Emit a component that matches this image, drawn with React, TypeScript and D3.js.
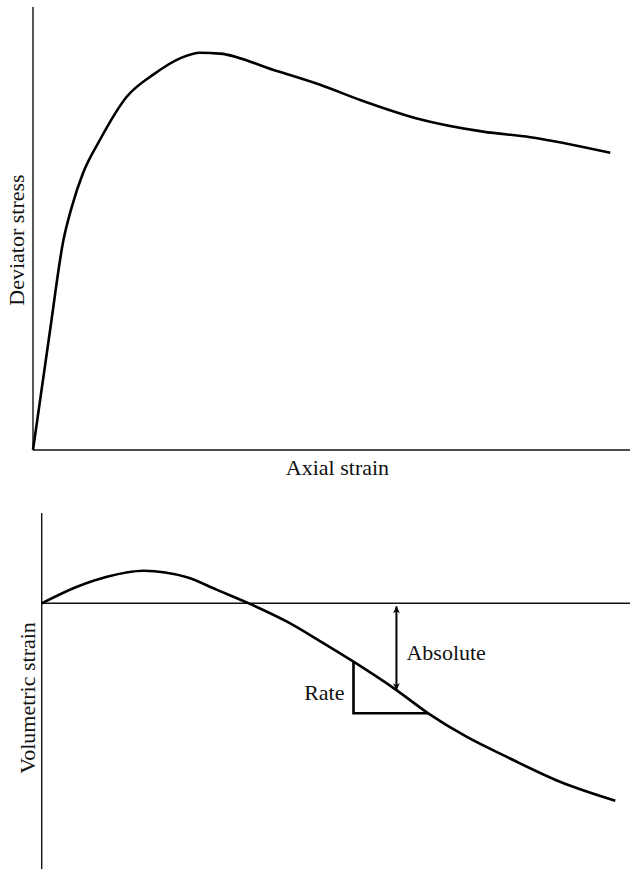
import React from "react";
import * as d3 from "d3";

// Deviator stress versus axial strain (schematic, arbitrary units)
const axialStrain = [0, 2.8, 5.1, 6.5, 8.4, 11.2, 15.7, 20.2, 24.9, 28.0, 31.3, 40.3, 48.1, 54.8, 64.3, 75.4, 83.3, 96.7];
const deviatorStress = [0, 29.3, 52.5, 60.8, 69.3, 77.5, 88.3, 93.9, 98.1, 99.3, 99.1, 95.0, 91.3, 87.5, 82.9, 79.6, 78.2, 74.3];

// Volumetric strain versus axial strain (schematic, arbitrary units)
const axialStrainVol = [0, 6.0, 11.1, 17.3, 24.7, 29.8, 35.4, 41.7, 47.3, 53.0, 60.3, 65.7, 72.2, 79.0, 88.1, 97.5];
const volumetricStrain = [0, 8.3, 13.3, 16.3, 13.0, 6.7, -0.3, -9.2, -18.9, -29.2, -43.4, -55.0, -66.7, -76.7, -89.2, -98.7];

// Annotation anchors (indices into the volumetric series)
const rateStartIndex = 9;
const rateEndIndex = 11;
const absoluteIndex = 10;

const topLabels = { x: "Axial strain", y: "Deviator stress" };
const bottomLabels = { y: "Volumetric strain", rate: "Rate", absolute: "Absolute" };

const W = 630;
const H = 869;
const FONT = "'Liberation Serif', 'Times New Roman', serif";
const FONT_SIZE = 22;

export default function App() {
  const xTop = d3.scaleLinear().domain([0, 100]).range([33, 630]);
  const yTop = d3.scaleLinear().domain([0, 110.75]).range([450, 7]);

  const xBot = d3.scaleLinear().domain([0, 100]).range([41.7, 630]);
  const yBot = d3.scaleLinear().domain([-132.85, 45.15]).range([869, 513]);

  const topData = axialStrain.map((x, i) => [x, deviatorStress[i]] as [number, number]);
  const botData = axialStrainVol.map((x, i) => [x, volumetricStrain[i]] as [number, number]);

  const topLine = d3
    .line<[number, number]>()
    .x((d) => xTop(d[0]))
    .y((d) => yTop(d[1]))
    .curve(d3.curveMonotoneX);

  const botLine = d3
    .line<[number, number]>()
    .x((d) => xBot(d[0]))
    .y((d) => yBot(d[1]))
    .curve(d3.curveMonotoneX);

  // Rate triangle
  const rx0 = xBot(axialStrainVol[rateStartIndex]);
  const ry0 = yBot(volumetricStrain[rateStartIndex]);
  const rx1 = xBot(axialStrainVol[rateEndIndex]);
  const ry1 = yBot(volumetricStrain[rateEndIndex]);

  // Absolute arrow
  const ax = xBot(axialStrainVol[absoluteIndex]);
  const ayTop = yBot(0) + 3;
  const ayBot = yBot(volumetricStrain[absoluteIndex]);

  const [tx0, tx1] = xTop.range();
  const [ty0, ty1] = yTop.range();
  const [bx0, bx1] = xBot.range();
  const [by0, by1] = yBot.range();

  return (
    <svg
      width={W}
      height={H}
      viewBox={`0 0 ${W} ${H}`}
      style={{ position: "absolute", left: 0, top: 0, display: "block", background: "#fff" }}
    >
      <defs>
        <marker
          id="arrow"
          viewBox="0 0 10 10"
          refX="10"
          refY="5"
          markerWidth="9"
          markerHeight="7"
          markerUnits="userSpaceOnUse"
          orient="auto-start-reverse"
        >
          <path d="M0,0 L10,5 L0,10 L3,5 Z" fill="#000" />
        </marker>
      </defs>

      {/* Upper panel axes */}
      <line x1={tx0} y1={ty0} x2={tx0} y2={ty1} stroke="#111" strokeWidth={1.4} />
      <line x1={tx0} y1={ty0} x2={tx1} y2={ty0} stroke="#111" strokeWidth={1.4} />
      <path d={topLine(topData) || ""} fill="none" stroke="#000" strokeWidth={2.6} strokeLinejoin="round" />

      <text
        x={(tx0 + tx1) / 2 + 6}
        y={ty0 + 25}
        textAnchor="middle"
        fontFamily={FONT}
        fontSize={FONT_SIZE}
        fill="#111"
      >
        {topLabels.x}
      </text>
      <text
        transform={`translate(24, 240) rotate(-90)`}
        textAnchor="middle"
        fontFamily={FONT}
        fontSize={FONT_SIZE}
        fill="#111"
      >
        {topLabels.y}
      </text>

      {/* Lower panel axes */}
      <line x1={bx0} y1={by0} x2={bx0} y2={by1} stroke="#111" strokeWidth={1.4} />
      <line x1={bx0} y1={yBot(0)} x2={bx1} y2={yBot(0)} stroke="#111" strokeWidth={1.4} />
      <path d={botLine(botData) || ""} fill="none" stroke="#000" strokeWidth={2.6} strokeLinejoin="round" />

      <text
        transform={`translate(35, 698) rotate(-90)`}
        textAnchor="middle"
        fontFamily={FONT}
        fontSize={FONT_SIZE}
        fill="#111"
      >
        {bottomLabels.y}
      </text>

      {/* Rate triangle */}
      <path
        d={`M${rx0},${ry0} L${rx0},${ry1} L${rx1},${ry1}`}
        fill="none"
        stroke="#000"
        strokeWidth={2.6}
        strokeLinejoin="miter"
      />
      <text x={rx0 - 9} y={ry1 - 13} textAnchor="end" fontFamily={FONT} fontSize={FONT_SIZE} fill="#111">
        {bottomLabels.rate}
      </text>

      {/* Absolute arrow */}
      <line
        x1={ax}
        y1={ayTop}
        x2={ax}
        y2={ayBot}
        stroke="#000"
        strokeWidth={2}
        markerStart="url(#arrow)"
        markerEnd="url(#arrow)"
      />
      <text x={ax + 10} y={yBot(0) + 57} fontFamily={FONT} fontSize={FONT_SIZE} fill="#111">
        {bottomLabels.absolute}
      </text>
    </svg>
  );
}
